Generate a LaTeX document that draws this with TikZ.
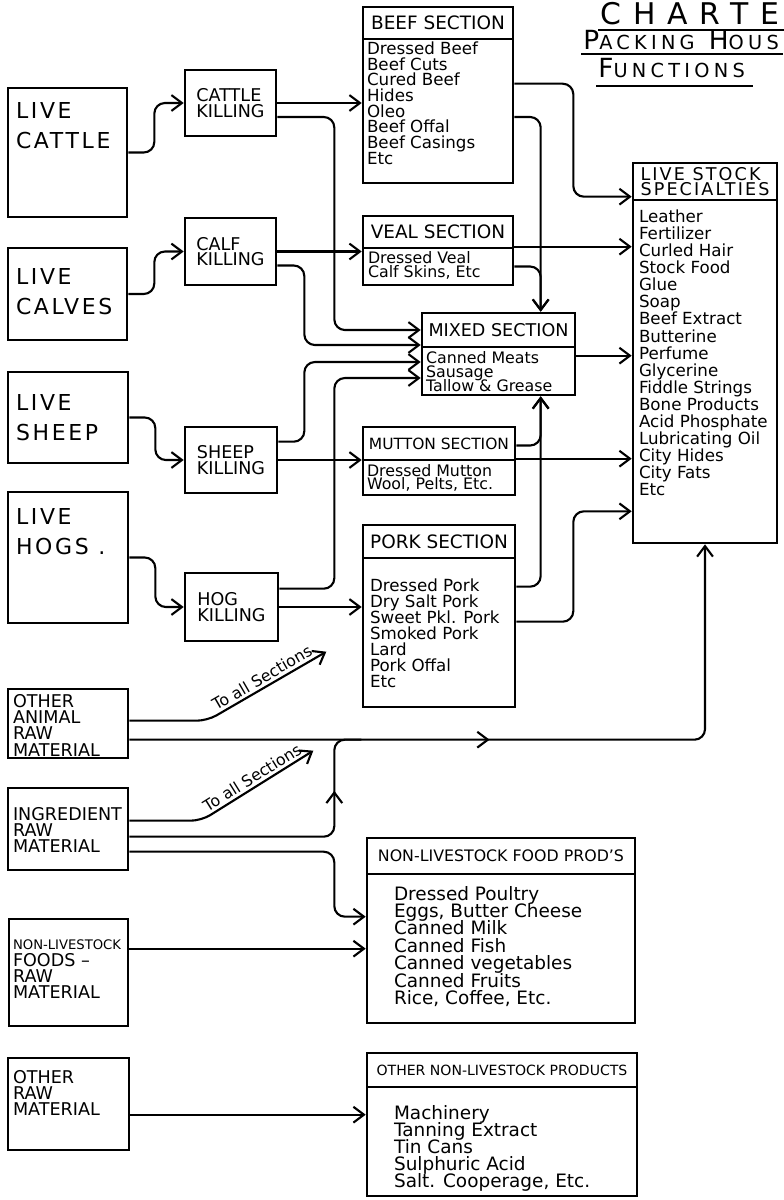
\documentclass[tikz,border=0pt]{standalone}
\usepackage{fontspec}
\setmainfont{DejaVu Sans}
\newfontfamily\spacedfont[LetterSpace=12]{DejaVu Sans}
\newfontfamily\titlefont[LetterSpace=22]{DejaVu Sans}
\newfontfamily\chartfont[LetterSpace=40]{DejaVu Sans}
\usetikzlibrary{arrows.meta, calc, fit, decorations.markings}
\lineskiplimit=-20pt

\begin{document}
\begin{tikzpicture}[
  x=0.02cm, y=-0.02cm,
  box/.style={draw, line width=1.5pt, inner sep=0pt},
  livelbl/.style={anchor=north west, inner sep=0pt, align=left, font=\spacedfont\fontsize{12.5}{17.5}\selectfont},
  rawlbl/.style={anchor=north west, inner sep=0pt, align=left, font=\fontsize{10}{9.3}\selectfont},
  killtxt/.style={inner sep=0pt, align=left, font=\fontsize{10}{8.8}\selectfont},
  headtxt/.style={inner sep=0pt, font=\fontsize{10.5}{10.5}\selectfont},
  items/.style={anchor=north west, inner sep=0pt, align=left, font=\fontsize{9.5}{9}\selectfont},
  tag/.style={font=\fontsize{9}{9}\selectfont, sloped, above, inner sep=1.5pt},
  link/.style={line width=1.2pt, rounded corners=6pt},
  arr/.style={link, -{Straight Barb[length=6pt, width=9pt]}},
  midarr/.style={postaction={decorate}, decoration={markings,
      mark=at position #1 with {\arrow{Straight Barb[length=6pt, width=9pt]}}}},
]
\useasboundingbox (0,0) rectangle (784,1200);

% ---------------------------------------------------------------
% title
% ---------------------------------------------------------------
\node[anchor=base west, inner sep=0pt, font=\chartfont\fontsize{17}{17}\selectfont] (ttla) at (600,25) {CHARTE};
\node[anchor=base west, inner sep=0pt, font=\titlefont\fontsize{15}{15}\selectfont] (ttlb) at (583,50)
  {P{\fontsize{11}{11}\selectfont ACKING} H{\fontsize{11}{11}\selectfont OUS}};
\node[anchor=base west, inner sep=0pt, font=\titlefont\fontsize{15}{15}\selectfont] (ttlc) at (598,77)
  {F{\fontsize{11}{11}\selectfont UNCTIONS}};
\draw[line width=1pt] ($(ttla.base west)+(-2,5)$) -- ($(ttla.base east)+(4,5)$);
\draw[line width=1pt] ($(ttlb.base west)+(-2,4)$) -- ($(ttlb.base east)+(4,4)$);
\draw[line width=1pt] ($(ttlc.base west)+(-2,9)$) -- ($(ttlc.base east)+(8,9)$);

% ---------------------------------------------------------------
% raw material (left column)
% ---------------------------------------------------------------
\node[box, fit={(8,88) (127,217)}] (cattle) {};
\node[livelbl] at ($(cattle.north west)+(9,15)$) {LIVE\\CATTLE};
\node[box, fit={(8,248) (127,340)}] (calves) {};
\node[livelbl] at ($(calves.north west)+(9,21)$) {LIVE\\CALVES};
\node[box, fit={(8,372) (128,463)}] (sheep) {};
\node[livelbl] at ($(sheep.north west)+(9,23)$) {LIVE\\SHEEP};
\node[box, fit={(8,492) (128,623)}] (hogs) {};
\node[livelbl] at ($(hogs.north west)+(9,17)$) {LIVE\\HOGS .};

\node[box, fit={(8,689) (128,758)}] (otheranimal) {};
\node[rawlbl] at ($(otheranimal.north west)+(6,6)$) {OTHER\\ANIMAL\\RAW\\MATERIAL};
\node[box, fit={(8,788) (128,870)}] (ingredient) {};
\node[rawlbl] at ($(ingredient.north west)+(6,20)$) {INGREDIENT\\RAW\\MATERIAL};
\node[box, fit={(9,919) (128,1026)}] (nonlivefoods) {};
\node[rawlbl] at ($(nonlivefoods.north west)+(5,22)$)
  {{\fontsize{7.5}{9}\selectfont NON-LIVESTOCK}\\FOODS --\\RAW\\MATERIAL};
\node[box, fit={(8,1058) (129,1150)}] (otherraw) {};
\node[rawlbl] at ($(otherraw.north west)+(6,13)$) {OTHER\\RAW\\MATERIAL};

% ---------------------------------------------------------------
% killing floors
% ---------------------------------------------------------------
\node[box, fit={(185,70) (276,136)}] (cattlek) {};
\node[killtxt] at (cattlek.center) {CATTLE\\KILLING};
\node[box, fit={(185,218) (276,285)}] (calfk) {};
\node[killtxt] at (calfk.center) {CALF\\KILLING};
\node[box, fit={(185,427) (277,493)}] (sheepk) {};
\node[killtxt] at (sheepk.center) {SHEEP\\KILLING};
\node[box, fit={(185,573) (278,641)}] (hogk) {};
\node[killtxt] at (hogk.center) {HOG\\KILLING};

% ---------------------------------------------------------------
% sections
% ---------------------------------------------------------------
\node[box, fit={(363,7) (513,39)}] (beefh) {};
\node[headtxt] at (beefh.center) {BEEF SECTION};
\node[box, fit={(363,39) (513,183)}] (beef) {};
\node[items, font=\fontsize{9.5}{8.9}\selectfont] at ($(beef.north west)+(5,4)$)
  {Dressed Beef\\ Beef Cuts\\Cured Beef\\Hides\\Oleo\\Beef Offal\\Beef Casings\\Etc};

\node[box, fit={(363,216) (513,248)}] (vealh) {};
\node[headtxt] at (vealh.center) {VEAL SECTION};
\node[box, fit={(363,248) (513,285)}] (veal) {};
\node[items, font=\fontsize{9}{8}\selectfont] at ($(veal.north west)+(6,4)$) {Dressed Veal\\Calf Skins, Etc};

\node[box, fit={(422,313) (575,347)}] (mixedh) {};
\node[headtxt, font=\fontsize{10}{10}\selectfont] at (mixedh.center) {MIXED SECTION};
\node[box, fit={(422,347) (575,395)}] (mixed) {};
\node[items, font=\fontsize{9}{8.2}\selectfont] at ($(mixed.north west)+(5,5)$)
  {Canned Meats\\Sausage\\Tallow \& Grease};

\node[box, fit={(363,427) (515,460)}] (muttonh) {};
\node[headtxt, font=\fontsize{8.8}{8.8}\selectfont] at (muttonh.center) {MUTTON SECTION};
\node[box, fit={(363,460) (515,495)}] (mutton) {};
\node[items, font=\fontsize{9}{7.8}\selectfont] at ($(mutton.north west)+(5,5)$) {Dressed Mutton\\Wool, Pelts, Etc.};

\node[box, fit={(363,525) (515,558)}] (porkh) {};
\node[headtxt] at (porkh.center) {PORK SECTION};
\node[box, fit={(363,558) (515,707)}] (pork) {};
\node[items, font=\fontsize{9.5}{9.1}\selectfont] at ($(pork.north west)+(8,22)$)
  {Dressed Pork\\Dry Salt Pork\\Sweet Pkl. Pork\\Smoked Pork\\Lard\\Pork Offal\\Etc};

% ---------------------------------------------------------------
% products (right)
% ---------------------------------------------------------------
\node[box, fit={(633,163) (777,200)}] (specialh) {};
\node[headtxt, align=left, font=\spacedfont\fontsize{10}{8.8}\selectfont] at (specialh.center) {LIVE STOCK\\SPECIALTIES};
\node[box, fit={(633,200) (777,543)}] (special) {};
\node[items, font=\fontsize{9.5}{9.7}\selectfont] at ($(special.north west)+(7,11)$)
  {Leather\\Fertilizer\\Curled Hair\\Stock Food\\Glue\\Soap\\Beef Extract\\Butterine\\Perfume\\Glycerine\\
   Fiddle Strings\\Bone Products\\Acid Phosphate\\Lubricating Oil\\City Hides\\City Fats\\Etc};

\node[box, fit={(367,838) (635,874)}] (foodh) {};
\node[headtxt, font=\fontsize{9}{9}\selectfont] at (foodh.center) {NON-LIVESTOCK FOOD PROD'S};
\node[box, fit={(367,874) (635,1023)}] (food) {};
\node[items, font=\fontsize{10.5}{9.9}\selectfont] at ($(food.north west)+(28,13)$)
  {Dressed Poultry\\Eggs, Butter Cheese\\Canned Milk\\Canned Fish\\Canned vegetables\\Canned Fruits\\Rice, Coffee, Etc.};

\node[box, fit={(367,1053) (637,1087)}] (otherph) {};
\node[headtxt, font=\fontsize{8}{8}\selectfont] at (otherph.center) {OTHER NON-LIVESTOCK PRODUCTS};
\node[box, fit={(367,1087) (637,1196)}] (otherp) {};
\node[items, font=\fontsize{10.5}{9.7}\selectfont] at ($(otherp.north west)+(28,19)$)
  {Machinery\\Tanning Extract\\Tin Cans\\Sulphuric Acid\\Salt. Cooperage, Etc.};

% ---------------------------------------------------------------
% helper points
% ---------------------------------------------------------------
\coordinate (mixtop) at ($(mixedh.north west)+(120,0)$);
\coordinate (mixbot) at ($(mixed.south west)+(120,0)$);
\coordinate (mixout) at ($(mixed.north east)+(0,10)$);
\coordinate (allsec1) at ($(otheranimal.north east)+(197,-36)$);
\coordinate (allsec2) at ($(ingredient.north east)+(184,-36)$);
\coordinate (merge) at ($(otheranimal.north east)+(232,52)$);
\coordinate (nlfout) at ($(nonlivefoods.north east)+(0,31)$);
\coordinate (orout) at ($(otherraw.north east)+(0,58)$);

% ---------------------------------------------------------------
% flows
% ---------------------------------------------------------------
\draw[arr] (cattle.east) -- ++(26,0) |- (cattlek.west);
\draw[arr] (calves.east) -- ++(26,0) |- (calfk.west);
\draw[arr] (sheep.east) -- ++(26,0) |- (sheepk.west);
\draw[arr] (hogs.east) -- ++(26,0) |- (hogk.west);

\draw[arr] (cattlek.east) -- (cattlek.east -| beef.west);
\draw[arr] ($(cattlek.east)+(0,14)$) -- ++(57,0) |- (mixedh.west);
\draw[arr] (calfk.east) -- (calfk.east -| vealh.west);
\draw[arr] ($(calfk.east)+(0,14)$) -- ++(27,0) |- ($(mixedh.west)+(0,15)$);
\draw[arr] ($(sheepk.north east)+(0,16)$) -- ++(26,0) |- ($(mixedh.west)+(0,32)$);
\draw[arr] (sheepk.east) -- (sheepk.east -| muttonh.west);
\draw[arr] ($(hogk.north east)+(0,17)$) -- ++(55,0) |- ($(mixedh.west)+(0,48)$);
\draw[arr] (hogk.east) -- (hogk.east -| pork.west);

\draw[arr] ($(beef.north east)+(0,46)$) -- ++(59,0) |- ($(special.north west)+(0,-2)$);
\draw[arr] ($(beef.east)+(0,6)$) -| (mixtop);
\draw[arr] (veal.north east) -- (veal.north east -| special.west);
\draw[arr] (veal.east) -| (mixtop);
\draw[arr] (mixout) -- (mixout -| special.west);
\draw[arr] ($(muttonh.east)+(0,2)$) -| (mixbot);
\draw[arr] (mutton.north east) -- (mutton.north east -| special.west);
\draw[arr] ($(pork.north east)+(0,30)$) -| (mixbot);
\draw[arr] ($(pork.north east)+(0,65)$) -- ++(57,0) |- ($(special.south west)+(0,-33)$);

% other raw materials
\draw[arr] ($(otheranimal.north east)+(0,33)$) -- ++(78,0) -- node[tag] {To all Sections} (allsec1);
\draw[arr, midarr=0.47] ($(otheranimal.north east)+(0,52)$) -| (special.south);
\draw[arr] ($(ingredient.north east)+(0,34)$) -- ++(72,0) -- node[tag] {To all Sections} (allsec2);
\draw[link, midarr=0.77] ($(ingredient.north east)+(0,50)$) -| ($(merge)+(-27,0)$) -- (merge);
\draw[arr] ($(ingredient.north east)+(0,65)$) -- ++(205,0) |- ($(food.north west)+(0,44)$);
\draw[arr] (nlfout) -- (nlfout -| food.west);
\draw[arr] (orout) -- (orout -| otherp.west);

\end{tikzpicture}
\end{document}
